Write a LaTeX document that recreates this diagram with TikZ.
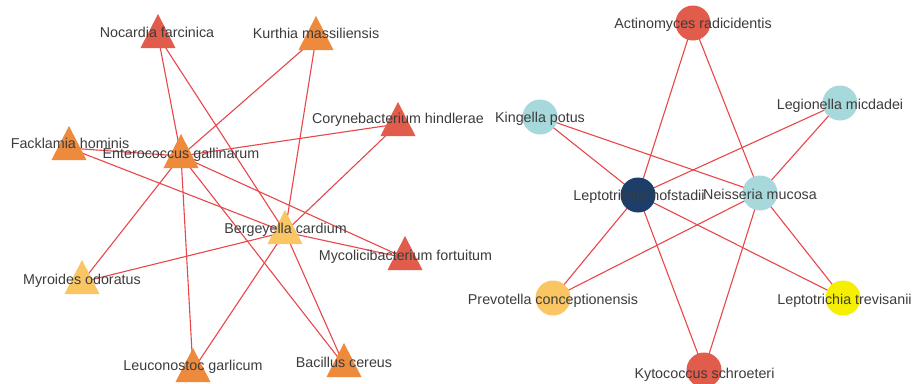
\documentclass[tikz,border=0pt]{standalone}
\usepackage{fontspec}
\setmainfont{Liberation Sans}
\definecolor{cRed}{HTML}{E25C4B}
\definecolor{cOrange}{HTML}{EE8A3C}
\definecolor{cYellowOr}{HTML}{FAC563}
\definecolor{cCyan}{HTML}{A7D8DB}
\definecolor{cNavy}{HTML}{1C3E69}
\definecolor{cYellow}{HTML}{F6F000}
\definecolor{cEdge}{HTML}{E8474A}
\definecolor{cText}{HTML}{3C3C3C}
\tikzset{
  edge/.style={draw=cEdge, line width=1.1pt},
  lab/.style={anchor=base, inner sep=0pt, text=cText, font=\fontsize{14.3}{16}\selectfont},
}
\begin{document}
\begin{tikzpicture}[x=1pt, y=-1pt]
\useasboundingbox[fill=white] (0,0) rectangle (912,383);
% left graph nodes
\coordinate (nf) at (158,36);
\coordinate (km) at (316,38);
\coordinate (ch) at (398,124);
\coordinate (fh) at (69,148);
\coordinate (eg) at (181,156);
\coordinate (bc) at (285,232);
\coordinate (mf) at (405,258);
\coordinate (mo) at (82,282);
\coordinate (lg) at (193,370);
\coordinate (bce) at (344,365);
% right graph nodes
\coordinate (ar) at (693,23);
\coordinate (kp) at (540,117);
\coordinate (lm) at (840,103);
\coordinate (lh) at (638,195);
\coordinate (nm) at (760,193);
\coordinate (pc) at (553,298);
\coordinate (lt) at (843,298);
\coordinate (ks) at (704,370);
% edges
\foreach \a in {nf,km,ch,fh,mo,lg,bce,mf}{
  \draw[edge] (eg) -- (\a);
  \draw[edge] (bc) -- (\a);
}
\foreach \a in {ar,kp,lm,pc,lt,ks}{
  \draw[edge] (lh) -- (\a);
  \draw[edge] (nm) -- (\a);
}
% triangles
\foreach \n/\c in {nf/cRed,km/cOrange,ch/cRed,fh/cOrange,eg/cOrange,bc/cYellowOr,mf/cRed,mo/cYellowOr,lg/cOrange,bce/cOrange}{
  \fill[\c, shift={(\n)}] (0,-22) -- (-17.5,12) -- (17.5,12) -- cycle;
}
% circles
\foreach \n/\c in {ar/cRed,kp/cCyan,lm/cCyan,lh/cNavy,nm/cCyan,pc/cYellowOr,lt/cYellow,ks/cRed}{
  \fill[\c] (\n) circle (17.5);
}
% labels
\node[lab] (lnf) at (157,37) {Nocardia farcinica};
\node[lab] (lkm) at (316,38) {Kurthia massiliensis};
\node[lab] (lch) at (398,123) {Corynebacterium hindlerae};
\node[lab] (lfh) at (70,148) {Facklamia hominis};
\node[lab] (leg) at (181,158) {Enterococcus gallinarum};
\node[lab] (lbc) at (285.5,233) {Bergeyella cardium};
\node[lab] (lmf) at (405.5,260) {Mycolicibacterium fortuitum};
\node[lab] (lmo) at (82,284) {Myroides odoratus};
\node[lab] (llg) at (193,370) {Leuconostoc garlicum};
\node[lab] (lbce) at (344,367) {Bacillus cereus};
\node[lab] (lar) at (693,28) {Actinomyces radicidentis};
\node[lab] (lkp) at (540,122) {Kingella potus};
\node[lab] (llm) at (840,109) {Legionella micdadei};
\node[lab] (llh) at (639,200) {Leptotrichia hofstadii};
\node[lab] (lnm) at (760,199) {Neisseria mucosa};
\node[lab] (lpc) at (553,304) {Prevotella conceptionensis};
\node[lab] (llt) at (844.5,304) {Leptotrichia trevisanii};
\node[lab] (lks) at (704.5,378) {Kytococcus schroeteri};
\end{tikzpicture}
\end{document}
